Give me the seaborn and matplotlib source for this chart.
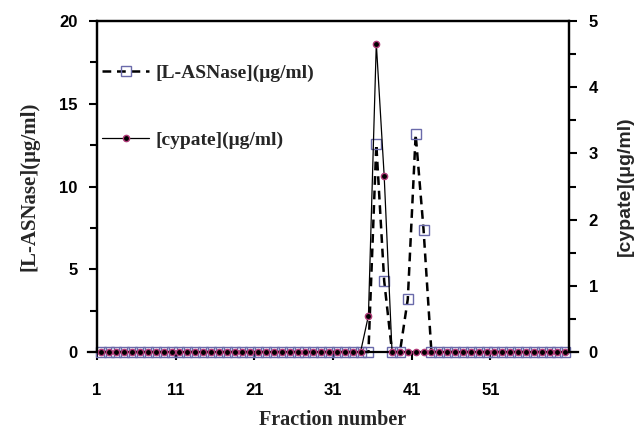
import numpy as np
import pandas as pd
import seaborn as sns
import matplotlib.pyplot as plt
from matplotlib.ticker import MultipleLocator

# fractions 1..60
fraction = list(range(1, 61))

lasnase = [0, 0, 0, 0, 0, 0, 0, 0, 0, 0,
           0, 0, 0, 0, 0, 0, 0, 0, 0, 0,
           0, 0, 0, 0, 0, 0, 0, 0, 0, 0,
           0, 0, 0, 0, 0, 12.55, 4.3, 0, 0, 3.2,
           13.15, 7.4, 0, 0, 0, 0, 0, 0, 0, 0,
           0, 0, 0, 0, 0, 0, 0, 0, 0, 0]

cypate = [0, 0, 0, 0, 0, 0, 0, 0, 0, 0,
          0, 0, 0, 0, 0, 0, 0, 0, 0, 0,
          0, 0, 0, 0, 0, 0, 0, 0, 0, 0,
          0, 0, 0, 0, 0.55, 4.66, 2.66, 0, 0, 0,
          0, 0, 0, 0, 0, 0, 0, 0, 0, 0,
          0, 0, 0, 0, 0, 0, 0, 0, 0, 0]

xtick_labels = ['1', '11', '21', '31', '41', '51']

df = pd.DataFrame({'fraction': fraction, 'lasnase': lasnase, 'cypate': cypate})

sns.set_style('ticks')
serif = dict(family='Liberation Serif', weight='bold')
sans = dict(family='Liberation Sans', weight='bold')

fig = plt.figure(figsize=(6.41, 4.30), dpi=100)
ax = fig.add_axes([0.151, 0.1814, 0.737, 0.7696])
ax2 = ax.twinx()

sns.lineplot(data=df, x='fraction', y='lasnase', ax=ax, color='black',
             linestyle=(0, (3.5, 2.3)), linewidth=1.8, marker='s', markersize=7,
             markerfacecolor='none', markeredgecolor='#6a6aaa', markeredgewidth=1,
             clip_on=False, label='[L-ASNase](\u03bcg/ml)', legend=False)
sns.lineplot(data=df, x='fraction', y='cypate', ax=ax2, color='black',
             linewidth=0.9, marker='o', markersize=4.5, markerfacecolor='black',
             markeredgecolor='#b03a78', markeredgewidth=1,
             clip_on=False, label='[cypate](\u03bcg/ml)', legend=False)

ax.set_xlim(0.5, 60.5)
ax.set_ylim(0, 20)
ax2.set_ylim(0, 5)

ax.set_xticks(np.arange(0.5, 60, 10))
ax.set_xticklabels(xtick_labels, **sans, fontsize=12)
ax.yaxis.set_major_locator(MultipleLocator(5))
ax.yaxis.set_minor_locator(MultipleLocator(2.5))
ax2.yaxis.set_major_locator(MultipleLocator(1))
ax2.yaxis.set_minor_locator(MultipleLocator(0.5))
for lab in ax.get_yticklabels() + ax2.get_yticklabels():
    lab.set_fontfamily('Liberation Sans')
    lab.set_fontweight('bold')
    lab.set_fontsize(12)

for a in (ax, ax2):
    a.tick_params(which='major', direction='out', length=6, width=1.5,
                  colors='black', pad=8)
    a.tick_params(which='minor', direction='out', length=5, width=1.5, colors='black')
    for s in a.spines.values():
        s.set_linewidth(1.6)
        s.set_color('black')
        s.set_visible(True)
ax.tick_params(axis='x', which='major', pad=16)
ax.spines['bottom'].set_bounds(-0.6, 61.6)
ax2.spines['bottom'].set_visible(False)

ax.set_xlabel('Fraction number', **serif, fontsize=14.5, labelpad=9)
ax.set_ylabel('[L-ASNase](\u03bcg/ml)', **serif, fontsize=15, labelpad=14)
ax2.set_ylabel('[cypate](\u03bcg/ml)', **sans, fontsize=14, labelpad=14)

h1, l1 = ax.get_legend_handles_labels()
h2, l2 = ax2.get_legend_handles_labels()
ax2.legend(h1 + h2, l1 + l2, loc='upper left', bbox_to_anchor=(0.012, 0.87),
           frameon=False, borderpad=0, borderaxespad=0, handlelength=2.4,
           handletextpad=0.35, labelspacing=2.55,
           prop=dict(family='Liberation Serif', weight='bold', size=14))

fig.savefig('out.png', dpi=100)
